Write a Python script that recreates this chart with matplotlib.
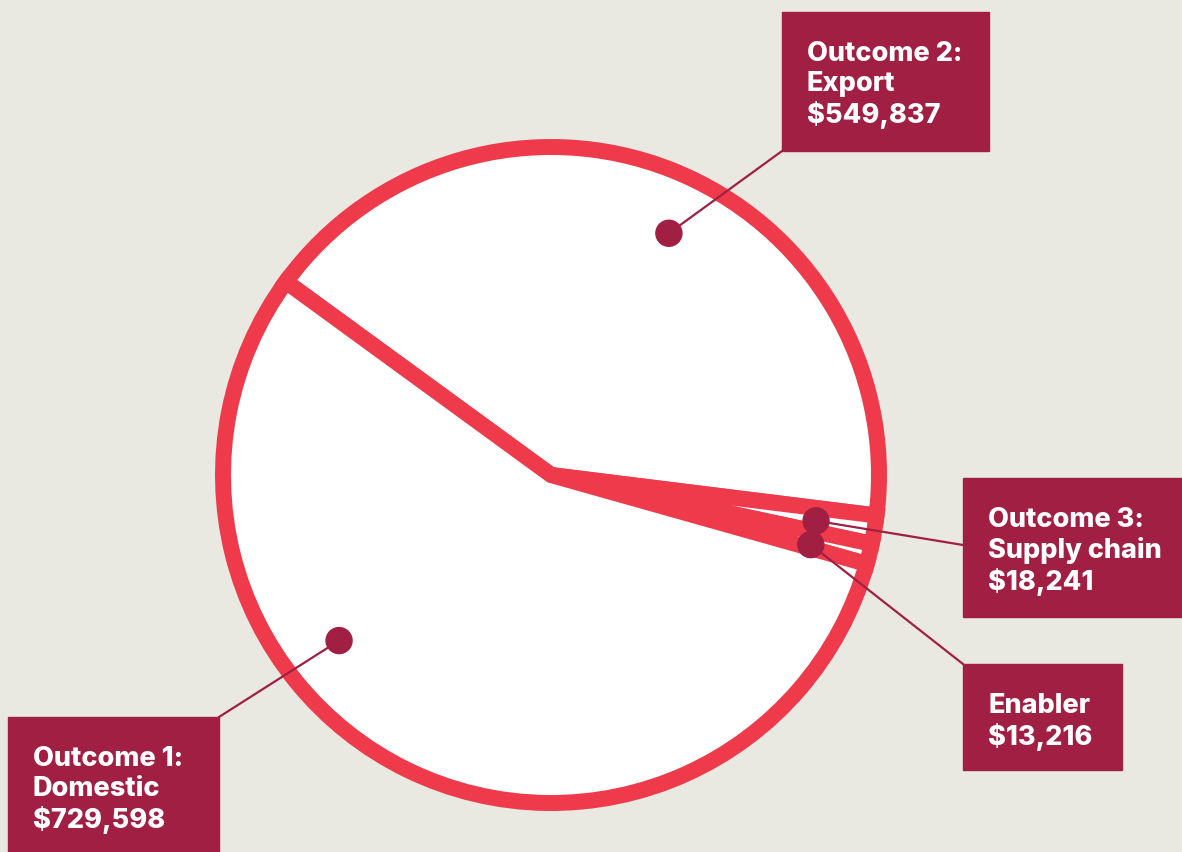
import numpy as np
import matplotlib
matplotlib.use("Agg")
from matplotlib import pyplot as plt
from matplotlib.patches import Rectangle, Circle

# slice data, in the order the pie is drawn (clockwise from upper left)
categories = ["Outcome 2:\nExport", "Outcome 3:\nSupply chain", "Enabler", "Outcome 1:\nDomestic"]
values = [549837, 18241, 13216, 729598]

BG = "#EAE9E1"
RED = "#EF3A4C"
CRIMSON = "#A01F43"
W, H = 1182, 852

# label layout: dot angle (deg), box (x, y_top, w, h) in pixels from top-left
dot_angles = [64, -9.8, -15, -142]
boxes = [(782, 12, 207, 139), (963, 478, 219, 139), (963, 664, 159, 106), (8, 717, 211, 135)]
line_ends = [(782, 151), (963, 545), (963, 664), (219, 717)]

fig = plt.figure(figsize=(W / 100, H / 100), dpi=100, facecolor=BG)
ax = fig.add_axes([0, 0, 1, 1])
ax.set_xlim(0, W)
ax.set_ylim(0, H)
ax.set_aspect("equal")
ax.axis("off")
ax.set_facecolor(BG)

cx, cy, R = 551, H - 475, 328
wedges, _ = ax.pie(values, startangle=143.9, counterclock=False,
                   colors=["white"] * len(values), center=(cx, cy), radius=R,
                   wedgeprops=dict(edgecolor=RED, linewidth=11.5))
ax.set_xlim(0, W)
ax.set_ylim(0, H)

for i, cat in enumerate(categories):
    a = np.deg2rad(dot_angles[i])
    dx, dy = cx + 0.82 * R * np.cos(a), cy + 0.82 * R * np.sin(a)
    ex, ey = line_ends[i]
    ax.plot([dx, ex], [dy, H - ey], color=CRIMSON, lw=1.6, zorder=5)
    ax.add_patch(Circle((dx, dy), 13, color=CRIMSON, zorder=6))
    bx, by, bw, bh = boxes[i]
    ax.add_patch(Rectangle((bx, H - by - bh), bw, bh, color=CRIMSON, zorder=7))
    label = f"{cat}\n${values[i]:,}"
    ax.text(bx + 25, H - by - 29, label, color="white", fontsize=19.5,
            fontfamily="Inter", fontweight="heavy", va="top", ha="left",
            linespacing=1.18, zorder=8)

fig.savefig("out.png", dpi=100, facecolor=BG)
